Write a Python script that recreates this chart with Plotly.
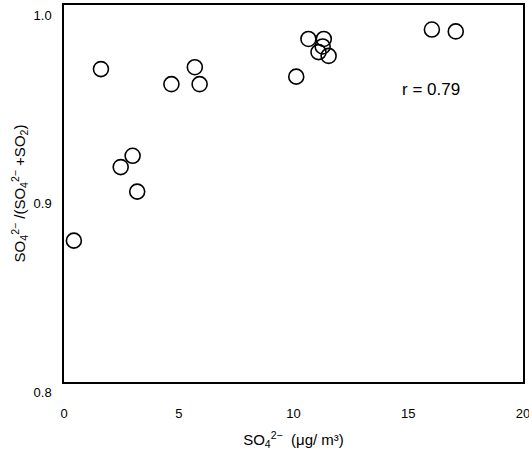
import plotly.graph_objects as go

so4 = [0.43, 1.61, 2.47, 2.99, 3.19, 4.68, 5.70, 5.91, 10.12, 10.65, 11.32, 11.27, 11.09, 11.53, 16.03, 17.07]
ratio = [0.875, 0.966, 0.914, 0.920, 0.901, 0.958, 0.967, 0.958, 0.962, 0.982, 0.982, 0.978, 0.975, 0.973, 0.987, 0.986]
x_ticks = [0, 5, 10, 15, 20]
y_ticks = [0.8, 0.9, 1.0]
y_tick_text = ["0.8", "0.9", "1.0"]
r_text = "r = 0.79"

FONT = "Liberation Sans, Arial, sans-serif"

fig = go.Figure()
fig.add_trace(go.Scatter(
    x=so4, y=ratio, mode="markers",
    marker=dict(symbol="circle-open", size=15, color="black", line=dict(width=1.6)),
    showlegend=False, hoverinfo="skip",
))

fig.add_annotation(x=16.0, y=0.955, xref="x", yref="y", text=r_text, showarrow=False,
                   font=dict(size=17, color="black", family=FONT))

axis_font = dict(size=13, color="black", family=FONT)
fig.update_xaxes(range=[0, 20], tickvals=x_ticks, ticks="", showgrid=False, zeroline=False,
                 showline=True, mirror=True, linecolor="black", linewidth=1.5,
                 tickfont=axis_font, ticklabelstandoff=19, automargin=False,
                 ticklabeloverflow="allow",
                 title=dict(text="SO<sub>4</sub><sup>2−</sup>  (μg/ m³)", font=dict(size=15, color="black", family=FONT), standoff=14))
fig.update_yaxes(range=[0.8, 1.0], tickvals=y_ticks, ticktext=y_tick_text, ticks="", showgrid=False, zeroline=False,
                 showline=True, mirror=True, linecolor="black", linewidth=1.5,
                 tickfont=axis_font, ticklabelshift=10, ticklabelstandoff=8, automargin=False,
                 ticklabeloverflow="allow",
                 title=dict(text="SO<sub>4</sub><sup>2−</sup> /(SO<sub>4</sub><sup>2−</sup> +SO<sub>2</sub>)", font=dict(size=15, color="black", family=FONT), standoff=4))

fig.update_layout(width=529, height=457, margin=dict(l=64, r=6, t=5, b=75),
                  plot_bgcolor="white", paper_bgcolor="white")

fig.write_html("out.html", config={"displayModeBar": False},
               post_script="document.body.style.margin='0';document.body.style.overflow='hidden';")
